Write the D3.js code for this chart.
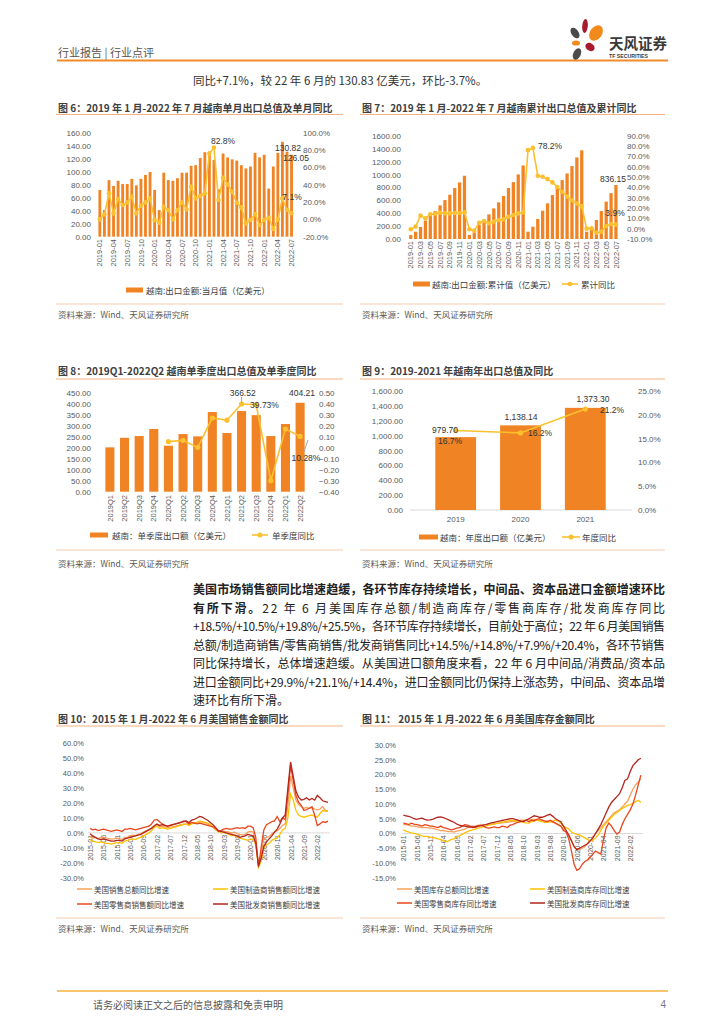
<!DOCTYPE html>
<html><head><meta charset="utf-8">
<script src="https://cdn.jsdelivr.net/npm/d3@7"></script>
<style>body{margin:0;background:#fff}</style>
</head><body><svg id="page" width="724" height="1024" style="display:block;background:#fff"></svg>
<script>
// ---------------- DATA ----------------
const months19_22 = ["2019-01","2019-02","2019-03","2019-04","2019-05","2019-06","2019-07","2019-08","2019-09","2019-10","2019-11","2019-12",
"2020-01","2020-02","2020-03","2020-04","2020-05","2020-06","2020-07","2020-08","2020-09","2020-10","2020-11","2020-12",
"2021-01","2021-02","2021-03","2021-04","2021-05","2021-06","2021-07","2021-08","2021-09","2021-10","2021-11","2021-12",
"2022-01","2022-02","2022-03","2022-04","2022-05","2022-06","2022-07"];
const fig6XTicks = ["2019-01","2019-04","2019-07","2019-10","2020-01","2020-04","2020-07","2020-10","2021-01","2021-04","2021-07","2021-10","2022-01","2022-04","2022-07"];
const fig6Monthly = [71.8,41,87,78,86,81,81,89,79,89,95,99.5, 72,41,98.5,87,86,90,98.5,98.5,109,110,121,130, 131,118,73,128,122,119,117,110,105,108,129,122, 126,74,108,129,146,130.83,126.05];
const fig6YoY = [0,5.8,30,6.9,23.5,16.5,19.6,26,6.9,15.8,19.6,24.2, -0.8,-3.8,14.6,10.8,0,10.8,19.6,11.5,37.7,24.2,26.9,30, 76,82.8,22.3,48,40.4,31.9,19.2,13.8,-4.6,-0.8,6.2,-6.5, -0.8,1.9,-11.2,0,24.2,10.8,7.1];
const fig6LeftTicks = [0,20,40,60,80,100,120,140,160];
const fig6RightTicks = [-20,0,20,40,60,80,100];

const fig7XTicks = ["2019-01","2019-03","2019-05","2019-07","2019-09","2019-11","2020-01","2020-03","2020-05","2020-07","2020-09","2020-11","2021-01","2021-03","2021-05","2021-07","2021-09","2021-11","2022-01","2022-03","2022-05","2022-07"];
const fig7Cum = [62,113,186,284,361,433,521,603,686,789,876,979.7, 62,103,216,294,381,474,567,665,789,881,1000,1138.14, 113,191,309,438,552,680,794,912,1015,1129,1263,1373.3, 113,165,294,433,579.3,710.1,836.15];
const fig7YoY = [-0.6,2,12.6,10,13.9,14.5,15.5,14.8,14.8,15.2,15.2,15.8, -0.6,-1.9,5.8,7.4,5.2,6.8,8.4,9,11.6,13.2,14.8,15.8, 76,78.2,51.3,50.3,48,44.8,40.3,35.8,31,27.4,24.2,21.6, 0,0.3,-3.9,-2.9,2.6,4.5,3.9];
const fig7LeftTicks = [0,200,400,600,800,1000,1200,1400,1600];
const fig7RightTicks = [-10,0,10,20,30,40,50,60,70,80,90];

const quarters = ["2019Q1","2019Q2","2019Q3","2019Q4","2020Q1","2020Q2","2020Q3","2020Q4","2021Q1","2021Q2","2021Q3","2021Q4","2022Q1","2022Q2"];
const fig8Val = [201.5,245,253,285,209,262,251.5,362,266.7,366.52,348,253,307.6,404.21];
const fig8YoY = [null,null,null,null,0.055,0.067,0.003,0.27,0.25,0.3973,0.39,-0.30,0.17,0.1028];
const fig8LeftTicks = [0,50,100,150,200,250,300,350,400,450];
const fig8RightTicks = [-0.4,-0.3,-0.2,-0.1,0,0.1,0.2,0.3,0.4,0.5];

const years = ["2019","2020","2021"];
const fig9Val = [979.70,1138.14,1373.30];
const fig9YoY = [16.7,16.2,21.2];
const fig9YoYLabels = ["16.7%","16.2%","21.2%"];
const fig9LeftTicks = [0,200,400,600,800,1000,1200,1400,1600];
const fig9RightTicks = [0,5,10,15,20,25];

// US monthly series, 2015-01 .. 2022-06 (90 months)
const usTickIdx = [0,5,10,15,20,25,30,35,40,45,50,55,60,65,70,75,80,85];
const usTickLabels = ["2015-01","2015-06","2015-11","2016-04","2016-09","2017-02","2017-07","2017-12","2018-05","2018-10","2019-03","2019-08","2020-01","2020-06","2020-11","2021-04","2021-09","2022-02"];

const salesTotal = [-2.5,-3.5,-3.0,-3.8,-3.2,-3.0,-3.5,-3.8,-4.2,-4.0,-3.5,-3.8,
 -4.5,-3.0,-2.8,-2.0,-1.5,-1.8,-1.0,-0.5,0.5,1.5,2.0,3.5,
 5.0,5.5,4.2,4.5,4.0,3.5,4.0,4.2,4.5,5.0,5.5,5.8,
 6.0,5.5,6.5,6.8,7.0,7.5,7.0,6.8,6.0,5.0,4.0,2.5,
 1.5,1.0,1.2,0.8,0.5,0.0,0.5,-0.5,-1.0,-1.5,-1.0,0.5,
 1.0,0.5,-5.5,-21.5,-14.0,-4.0,-3.0,-2.5,-0.5,0.5,1.5,3.0,
 5.0,6.0,18.0,38.0,30.0,22.0,19.0,17.5,16.5,17.0,16.5,17.0,
 16.0,15.5,16.0,17.5,15.0,14.5];
const salesMfr = [-4.5,-5.5,-6.0,-6.5,-6.0,-6.5,-7.0,-7.0,-7.5,-7.0,-6.5,-6.5,
 -7.0,-5.5,-5.0,-4.5,-4.0,-4.5,-3.5,-3.0,-2.0,-1.0,0.0,1.5,
 3.5,4.5,3.0,3.5,3.0,2.5,3.0,3.5,4.0,4.5,5.0,5.5,
 6.0,5.0,6.0,6.5,7.0,8.0,7.5,7.0,6.5,5.5,4.0,2.0,
 1.0,0.0,0.5,-0.5,-1.0,-2.0,-1.5,-2.5,-3.5,-4.0,-4.5,-5.0,
 -4.0,-4.5,-8.0,-23.0,-19.0,-10.0,-8.0,-7.0,-5.0,-4.0,-3.5,-1.0,
 2.0,3.0,10.0,26.0,22.0,15.0,12.0,11.0,10.5,11.0,11.5,12.0,
 11.0,10.5,13.0,15.0,14.5,14.8];
const salesRetail = [3.0,2.0,2.5,1.5,2.0,2.5,2.0,1.5,1.0,1.5,2.0,1.5,
 1.0,2.5,2.5,3.0,2.5,2.0,2.5,3.0,3.5,4.0,4.5,6.0,
 8.5,9.0,7.5,6.0,5.0,4.5,5.0,5.5,6.0,6.5,7.0,8.0,
 7.5,6.0,7.0,6.5,6.0,6.5,6.0,5.5,5.0,4.5,4.0,3.0,
 1.0,1.5,2.5,3.0,2.5,2.5,3.0,3.5,3.0,3.5,3.0,4.5,
 4.5,3.5,-3.0,-23.0,-10.0,2.0,5.5,6.5,7.5,8.0,11.0,7.5,
 10.0,9.0,26.0,45.0,35.0,25.0,20.5,18.5,15.0,15.5,16.5,17.5,
 12.0,5.0,6.0,7.5,7.0,7.9];
const salesWholesale = [-0.5,-2.0,-3.0,-4.0,-4.5,-4.0,-4.5,-5.0,-5.5,-5.5,-5.0,-5.0,
 -5.5,-4.0,-3.5,-3.0,-2.5,-2.0,-1.5,-1.0,0.0,1.0,2.0,3.0,
 4.5,6.0,5.0,5.5,5.0,4.5,5.0,5.5,6.0,6.5,7.0,7.5,
 8.0,7.0,8.5,9.0,10.0,11.0,10.5,9.5,8.5,7.0,5.5,3.5,
 1.5,1.0,0.5,0.0,-0.5,-1.0,-1.5,-2.0,-3.0,-2.5,-2.0,-1.0,
 -1.5,-2.0,-7.0,-22.0,-17.0,-9.0,-6.0,-4.0,-2.0,0.5,2.5,6.0,
 10.0,12.0,30.0,47.5,38.0,28.0,24.0,22.0,22.5,23.5,22.0,23.0,
 22.0,25.0,23.5,21.5,21.0,20.4];

const invTotal = [3.0,3.0,2.8,2.5,2.5,2.3,2.2,2.0,2.0,2.0,1.8,1.8,
 1.5,1.2,1.0,1.0,0.8,0.6,0.6,0.5,0.8,1.0,1.2,1.5,
 2.0,2.2,2.5,2.5,2.8,2.8,3.0,3.0,3.2,3.2,3.3,3.4,
 3.5,3.6,3.8,3.8,4.0,4.0,4.2,4.3,4.5,4.5,4.5,4.6,
 4.8,4.8,4.7,4.5,4.5,4.3,4.2,4.0,3.8,3.5,3.0,2.5,
 1.5,0.5,-1.0,-2.5,-4.5,-5.5,-5.5,-5.0,-4.5,-3.5,-2.5,-1.5,
 0.0,1.0,2.0,3.0,4.0,5.0,6.0,7.0,7.5,8.0,9.0,10.0,
 11.0,13.0,15.0,16.5,17.5,18.5];
const invMfr = [1.2,0.8,0.5,0.2,0.0,-0.2,-0.5,-0.8,-1.0,-1.0,-1.2,-1.5,
 -1.5,-1.8,-2.0,-2.5,-2.8,-2.5,-2.0,-1.8,-1.2,-0.8,-0.3,0.2,
 0.6,1.0,1.2,1.5,1.8,2.0,2.3,2.5,2.8,3.0,3.2,3.4,
 3.6,3.8,4.0,4.2,4.5,4.4,4.3,4.2,4.0,3.8,3.6,3.5,
 4.0,4.2,4.5,4.3,4.0,3.8,3.8,4.0,4.2,4.6,4.2,3.5,
 2.5,2.0,1.5,0.5,0.0,-0.3,-0.5,-1.0,-1.5,-2.0,-2.5,-2.3,
 -1.5,-0.5,1.0,2.5,3.5,4.5,5.5,6.5,7.0,7.8,8.5,9.0,
 9.5,9.8,10.2,10.8,11.2,10.5];
const invRetail = [3.5,3.3,3.0,3.5,3.2,3.0,2.8,2.5,3.0,2.8,2.5,2.5,
 2.2,2.0,2.5,2.0,1.8,1.5,1.2,1.5,1.8,2.0,2.5,3.0,
 2.8,2.5,2.3,2.0,2.5,2.8,2.5,2.0,1.8,2.0,2.2,2.0,
 2.0,2.5,2.3,2.0,2.8,3.0,3.5,3.8,4.0,4.2,4.5,4.0,
 4.5,4.3,4.8,5.0,4.5,4.2,4.0,4.5,4.0,3.5,3.0,2.5,
 1.0,0.5,-2.0,-6.0,-10.5,-12.5,-12.0,-10.5,-9.5,-9.0,-8.0,-7.0,
 -6.0,-6.5,-7.0,-2.0,2.0,3.5,2.5,1.0,-0.2,0.5,3.0,5.0,
 6.5,8.0,10.0,13.0,16.5,19.8];
const invWholesale = [6.2,6.0,5.8,5.5,5.0,4.8,5.0,5.2,4.8,4.5,4.6,4.8,
 5.2,5.5,5.6,5.4,5.0,4.6,4.2,3.8,3.2,2.8,2.6,2.5,
 2.3,2.2,2.0,2.3,2.5,2.6,2.8,3.0,3.3,3.6,3.8,4.0,
 4.2,4.4,4.6,4.8,5.0,5.0,4.8,4.5,4.2,4.0,4.5,5.0,
 5.5,6.0,5.8,5.5,5.5,5.8,6.2,6.5,5.8,5.0,4.5,4.0,
 2.5,1.0,-0.5,-2.5,-4.5,-5.5,-5.0,-4.5,-4.0,-3.5,-2.5,-1.5,
 0.0,1.5,3.0,5.0,7.0,9.0,10.5,11.5,12.5,13.5,15.5,18.0,
 18.5,21.0,23.0,24.0,25.0,25.5];
const fig10Ticks = [-30,-20,-10,0,10,20,30,40,50,60];
const fig11Ticks = [-15,-10,-5,0,5,10,15,20,25,30];

// ---------------- DRAWING ----------------
const svg = d3.select("#page");
const CJK = '"Noto Sans CJK SC","Noto Sans",sans-serif';
const NUM = '"Liberation Sans","Noto Sans CJK SC",sans-serif';
const ORANGE = "#F08323", GOLD = "#FBC02F", AX = "#595959", TXT = "#333";

function txt(x, y, s, o = {}) {
  const t = svg.append("text").attr("x", x).attr("y", y).text(s)
    .attr("font-size", o.size || 10).attr("fill", o.fill || TXT)
    .attr("font-family", o.family || CJK).attr("text-anchor", o.anchor || "start")
    .attr("dominant-baseline", "central");
  if (o.weight) t.attr("font-weight", o.weight);
  return t;
}
function hline(x1, x2, y, c, w) {
  svg.append("line").attr("x1", x1).attr("x2", x2).attr("y1", y).attr("y2", y)
    .attr("stroke", c).attr("stroke-width", w);
}
function cleanAxis(sel, size, anchor) {
  sel.attr("font-family", NUM).attr("font-size", size);
  sel.select(".domain").remove();
  sel.selectAll(".tick line").remove();
  sel.selectAll("text").attr("fill", AX);
}

// header
txt(58, 52, "行业报告 | 行业点评", {size: 11, fill: "#555"});
hline(57, 668, 60.5, "#F08A2B", 2);
// logo
const logo = svg.append("g");
[[575,33,3.6,6,-35,"#4A4A4A"],[585,26,2.8,7,5,"#A6192E"],[596,33,6,8.5,35,"#F08A1C"],
 [576,43,4,2.6,0,"#F08A1C"],[590,47,5,3.8,35,"#A6192E"],[577,54,3.8,6,25,"#4A4A4A"]].forEach(p=>{
  logo.append("ellipse").attr("cx",p[0]).attr("cy",p[1]).attr("rx",p[2]).attr("ry",p[3])
   .attr("transform",`rotate(${p[4]},${p[0]},${p[1]})`).attr("fill",p[5]);
});
txt(609, 42, "天风证券", {size: 14.5, weight: "bold", fill: "#3a3a3a"});
txt(609, 55.5, "TF SECURITIES", {size: 5.2, weight: "bold", fill: "#3a3a3a", family: NUM});

txt(193, 80, "同比+7.1%，较 22 年 6 月的 130.83 亿美元，环比-3.7%。", {size: 11.5, fill: TXT});

// titles, underlines, bottom lines, sources
function frame(x, xEnd, title, ty, uy, by, sy) {
  txt(x + 1, ty, title, {size: 10, weight: "bold", fill: "#404040"});
  hline(x - 1, xEnd, uy, "#F4B183", 1);
  hline(x - 1, xEnd, by, "#F8CBAD", 1);
  txt(x + 1, sy, "资料来源：Wind、天风证券研究所", {size: 8.5, fill: "#595959"});
}
frame(57, 343, "图 6：2019 年 1 月-2022 年 7 月越南单月出口总值及单月同比", 107, 114.5, 304, 314);
frame(361, 665, "图 7：2019 年 1 月-2022 年 7 月越南累计出口总值及累计同比", 107, 114.5, 304, 314);
frame(57, 343, "图 8：2019Q1-2022Q2 越南单季度出口总值及单季度同比", 370, 379, 550, 563);
frame(361, 665, "图 9：2019-2021 年越南年出口总值及同比", 370, 379, 550, 563);
frame(57, 343, "图 10：2015 年 1 月-2022 年 6 月美国销售金额同比", 718, 726, 918, 928);
frame(361, 665, "图 11： 2015 年 1 月-2022 年 6 月美国库存金额同比", 718, 726, 918, 928);

// combo bar + line chart
function combo(c) {
  const g = svg.append("g");
  const x = d3.scaleBand().domain(c.cats).range(c.xRange).padding(c.pad);
  const yL = d3.scaleLinear().domain(c.yLDom).range([c.y0, c.y1]);
  const yR = d3.scaleLinear().domain(c.yRDom).range([c.y0, c.y1]);
  g.append("g").attr("transform", `translate(${c.yLx},0)`)
    .call(d3.axisLeft(yL).tickValues(c.yLTicks).tickSize(0).tickPadding(0).tickFormat(c.yLFmt))
    .call(s => cleanAxis(s, c.tickSize || 8));
  g.append("g").attr("transform", `translate(${c.yRx},0)`)
    .call(d3.axisRight(yR).tickValues(c.yRTicks).tickSize(0).tickPadding(0).tickFormat(c.yRFmt))
    .call(s => cleanAxis(s, c.tickSize || 8));
  if (c.baseline) g.append("line").attr("x1", c.baseline[0]).attr("x2", c.baseline[1])
    .attr("y1", c.y0).attr("y2", c.y0).attr("stroke", "#D9D9D9").attr("stroke-width", 1);
  g.selectAll("rect.bar").data(c.vals).join("rect").attr("class", "bar")
    .attr("x", (d, i) => x(c.cats[i])).attr("width", x.bandwidth())
    .attr("y", d => yL(d)).attr("height", d => c.y0 - yL(d)).attr("fill", ORANGE);
  const cx = (i) => x(c.cats[i]) + x.bandwidth() / 2;
  const line = d3.line().defined(d => d != null).x((d, i) => cx(i)).y(d => yR(d));
  g.append("path").attr("d", line(c.line)).attr("fill", "none").attr("stroke", GOLD).attr("stroke-width", c.lw || 1.6);
  g.selectAll("circle.m").data(c.line.map((d, i) => [d, i]).filter(d => d[0] != null)).join("circle")
    .attr("cx", d => cx(d[1])).attr("cy", d => yR(d[0])).attr("r", c.mr || 2.3).attr("fill", GOLD);
  // x axis labels
  const xa = g.append("g").attr("transform", `translate(0,${c.xLabY})`)
    .call(d3.axisBottom(x).tickValues(c.xTicks).tickSize(0).tickPadding(0));
  cleanAxis(xa, c.xLabSize || 7.5);
  if (c.rotate) {
    xa.selectAll("text").attr("transform", "rotate(-90)").attr("text-anchor", "end")
      .attr("x", 0).attr("y", 0).attr("dy", "0.35em");
  } else {
    xa.selectAll("text").attr("dy", "0.71em").attr("fill", AX);
  }
  return {x, yL, yR, cx};
}

const f2 = d3.format(".2f");
// Fig 6
const c6 = combo({cats: months19_22, vals: fig6Monthly, line: fig6YoY, xRange: [96.7, 294.7], pad: 0.38,
  y0: 236.7, y1: 132.7, yLDom: [0,160], yLTicks: fig6LeftTicks, yLFmt: f2, yLx: 91,
  yRDom: [-20,100], yRTicks: fig6RightTicks, yRFmt: d => d.toFixed(1) + "%", yRx: 303,
  xTicks: fig6XTicks, xLabY: 239, rotate: true, xLabSize: 7.5, mr: 2.3});
txt(223, 141, "82.8%", {size: 8.5, anchor: "middle", family: NUM});
txt(288, 148, "130.82", {size: 8.5, anchor: "middle", family: NUM});
txt(296, 157.5, "126.05", {size: 8.5, anchor: "middle", family: NUM});
txt(292, 197, "7.1%", {size: 8.5, anchor: "middle", family: NUM});
svg.append("rect").attr("x", 126).attr("y", 287.5).attr("width", 17).attr("height", 5).attr("fill", ORANGE);
txt(146, 290, "越南:出口金额:当月值（亿美元）", {size: 8.5, fill: "#404040"});

// Fig 7
const c7 = combo({cats: months19_22, vals: fig7Cum, line: fig7YoY, xRange: [407.5, 619.2], pad: 0.33,
  y0: 239, y1: 135.7, yLDom: [0,1600], yLTicks: fig7LeftTicks, yLFmt: f2, yLx: 401,
  yRDom: [-10,90], yRTicks: fig7RightTicks, yRFmt: d => d.toFixed(1) + "%", yRx: 627,
  xTicks: fig7XTicks, xLabY: 241, rotate: true, xLabSize: 7.5, mr: 2.3});
txt(538, 146, "78.2%", {size: 8.5, family: NUM});
txt(613, 179, "836.15", {size: 8.5, anchor: "middle", family: NUM});
txt(615, 213, "3.9%", {size: 8.5, anchor: "middle", family: NUM});
svg.append("rect").attr("x", 413).attr("y", 281.5).attr("width", 17).attr("height", 5).attr("fill", ORANGE);
txt(432, 284, "越南:出口金额:累计值（亿美元）", {size: 8.5, fill: "#404040"});
hline(562, 578, 284, GOLD, 1.6);
svg.append("circle").attr("cx", 570).attr("cy", 284).attr("r", 2.3).attr("fill", GOLD);
txt(581, 284, "累计同比", {size: 8.5, fill: "#404040"});

// Fig 8
const c8 = combo({cats: quarters, vals: fig8Val, line: fig8YoY, xRange: [99.8, 310.2], pad: 0.38,
  y0: 491.7, y1: 392.7, yLDom: [0,450], yLTicks: fig8LeftTicks, yLFmt: f2, yLx: 91,
  yRDom: [-0.4,0.5], yRTicks: fig8RightTicks, yRFmt: f2, yRx: 319,
  xTicks: quarters, xLabY: 495, rotate: true, xLabSize: 7.5, mr: 2.6, lw: 1.6});
svg.append("line").attr("x1", c8.cx(9)).attr("x2", c8.cx(9)).attr("y1", 397).attr("y2", 403).attr("stroke", "#A6A6A6");
svg.append("line").attr("x1", 304).attr("x2", 308).attr("y1", 452).attr("y2", 440).attr("stroke", "#A6A6A6");
txt(242.7, 393, "366.52", {size: 8.5, anchor: "middle", family: NUM});
txt(264.5, 405, "39.73%", {size: 8.5, anchor: "middle", family: NUM});
txt(302, 392.5, "404.21", {size: 8.5, anchor: "middle", family: NUM});
txt(306, 458, "10.28%", {size: 8.5, anchor: "middle", family: NUM});
svg.append("rect").attr("x", 90).attr("y", 532.5).attr("width", 18).attr("height", 5).attr("fill", ORANGE);
txt(112, 535, "越南：单季度出口额（亿美元）", {size: 8.5, fill: "#404040"});
hline(252, 268, 535, GOLD, 1.6);
svg.append("circle").attr("cx", 260).attr("cy", 535).attr("r", 2.5).attr("fill", GOLD);
txt(272, 535, "单季度同比", {size: 8.5, fill: "#404040"});

// Fig 9
const c9 = combo({cats: years, vals: fig9Val, line: fig9YoY, xRange: [411.3, 629.7], pad: 0.37,
  y0: 510, y1: 391, yLDom: [0,1600], yLTicks: fig9LeftTicks, yLFmt: d3.format(",.2f"), yLx: 403,
  yRDom: [0,25], yRTicks: fig9RightTicks, yRFmt: d => d.toFixed(1) + "%", yRx: 638,
  xTicks: years, xLabY: 516, rotate: false, xLabSize: 8, mr: 2.6, lw: 1.6, baseline: [410, 632]});
[[445,429.5,"979.70"],[450,441,fig9YoYLabels[0]],[521,417,"1,138.14"],[540,433,fig9YoYLabels[1]],[593,399,"1,373.30"],[612,410,fig9YoYLabels[2]]]
 .forEach(a => txt(a[0], a[1], a[2], {size: 8.5, anchor: "middle", family: NUM}));
svg.append("rect").attr("x", 419).attr("y", 534.5).attr("width", 19).attr("height", 5).attr("fill", ORANGE);
txt(440, 537, "越南：年度出口额（亿美元）", {size: 8.5, fill: "#404040"});
hline(562, 580, 537, GOLD, 1.6);
svg.append("circle").attr("cx", 571).attr("cy", 537).attr("r", 2.5).attr("fill", GOLD);
txt(582, 537, "年度同比", {size: 8.5, fill: "#404040"});

// Paragraph
const paraLines = [
  [["美国市场销售额同比增速趋缓，各环节库存持续增长，中间品、资本品进口金额增速环比", true]],
  [["有所下滑。", true], ["22 年 6 月美国库存总额/制造商库存/零售商库存/批发商库存同比", false]],
  [["+18.5%/+10.5%/+19.8%/+25.5%，各环节库存持续增长，目前处于高位；22 年 6 月美国销售", false]],
  [["总额/制造商销售/零售商销售/批发商销售同比+14.5%/+14.8%/+7.9%/+20.4%，各环节销售", false]],
  [["同比保持增长，总体增速趋缓。从美国进口额角度来看，22 年 6 月中间品/消费品/资本品", false]],
  [["进口金额同比+29.9%/+21.1%/+14.4%，进口金额同比仍保持上涨态势，中间品、资本品增", false]],
  [["速环比有所下滑。", false]]
];
paraLines.forEach((ln, i) => {
  const t = svg.append("text").attr("x", 193).attr("y", 588 + i * 18.5).attr("font-size", 12)
    .attr("font-family", CJK).attr("fill", "#222").attr("dominant-baseline", "central");
  ln.forEach(seg => t.append("tspan").text(seg[0]).attr("font-weight", seg[1] ? "bold" : "normal"));
  if (i < paraLines.length - 1) t.attr("textLength", 472).attr("lengthAdjust", "spacing");
});

// US line charts
const usColors = ["#F5A05A", "#FFC000", "#E8471E", "#B3261E"];
function usChart(c) {
  const g = svg.append("g");
  const x = d3.scaleLinear().domain([0, 89]).range(c.xRange);
  const y = d3.scaleLinear().domain(c.yDom).range([c.y0, c.y1]);
  g.append("g").attr("transform", `translate(${c.yx},0)`)
    .call(d3.axisLeft(y).tickValues(c.ticks).tickSize(0).tickPadding(0).tickFormat(d => d.toFixed(1) + "%"))
    .call(s => cleanAxis(s, 7.5));
  g.append("line").attr("x1", c.axX[0]).attr("x2", c.axX[1]).attr("y1", y(0)).attr("y2", y(0))
    .attr("stroke", "#D9D9D9").attr("stroke-width", 1);
  const xa = g.append("g").attr("transform", `translate(0,${y(0) + 2})`)
    .call(d3.axisBottom(x).tickValues(usTickIdx).tickSize(0).tickPadding(0).tickFormat((d, i) => usTickLabels[i]));
  cleanAxis(xa, 7);
  xa.selectAll("text").attr("transform", "rotate(-90)").attr("text-anchor", "end")
    .attr("x", 0).attr("y", 0).attr("dy", "0.35em");
  const line = d3.line().x((d, i) => x(i)).y(d => y(d));
  c.series.forEach((s, k) => {
    g.append("path").attr("d", line(s)).attr("fill", "none").attr("stroke", usColors[k]).attr("stroke-width", 1.3);
  });
  c.names.forEach((n, k) => {
    const lx = k % 2 === 0 ? c.leg[0] : c.leg[1];
    const ly = k < 2 ? c.legY[0] : c.legY[1];
    g.append("line").attr("x1", lx).attr("x2", lx + 15).attr("y1", ly).attr("y2", ly)
      .attr("stroke", usColors[k]).attr("stroke-width", 1.5);
    g.append("text").attr("x", lx + 17).attr("y", ly).text(n).attr("font-size", 7.5)
      .attr("font-family", CJK).attr("fill", "#404040").attr("dominant-baseline", "central");
  });
}
usChart({xRange: [90, 328], yDom: [-30, 60], y0: 877.7, y1: 743.3, yx: 84, ticks: fig10Ticks, axX: [88, 330],
  series: [salesTotal, salesMfr, salesRetail, salesWholesale],
  names: ["美国销售总额同比增速", "美国制造商销售额同比增速", "美国零售商销售额同比增速", "美国批发商销售额同比增速"],
  leg: [77, 213], legY: [889, 904]});
usChart({xRange: [403.3, 640.9], yDom: [-15, 30], y0: 877.7, y1: 745, yx: 396, ticks: fig11Ticks, axX: [401.7, 642.7],
  series: [invTotal, invMfr, invRetail, invWholesale],
  names: ["美国库存总额同比增速", "美国制造商库存同比增速", "美国零售商库存同比增速", "美国批发商库存同比增速"],
  leg: [397, 530], legY: [889, 903]});

// footer
hline(57, 668, 991, "#F5B041", 1.5);
txt(93, 1004, "请务必阅读正文之后的信息披露和免责申明", {size: 10, fill: "#555"});
txt(666, 1004, "4", {size: 10, fill: "#777", anchor: "end", family: NUM});
</script></body></html>
